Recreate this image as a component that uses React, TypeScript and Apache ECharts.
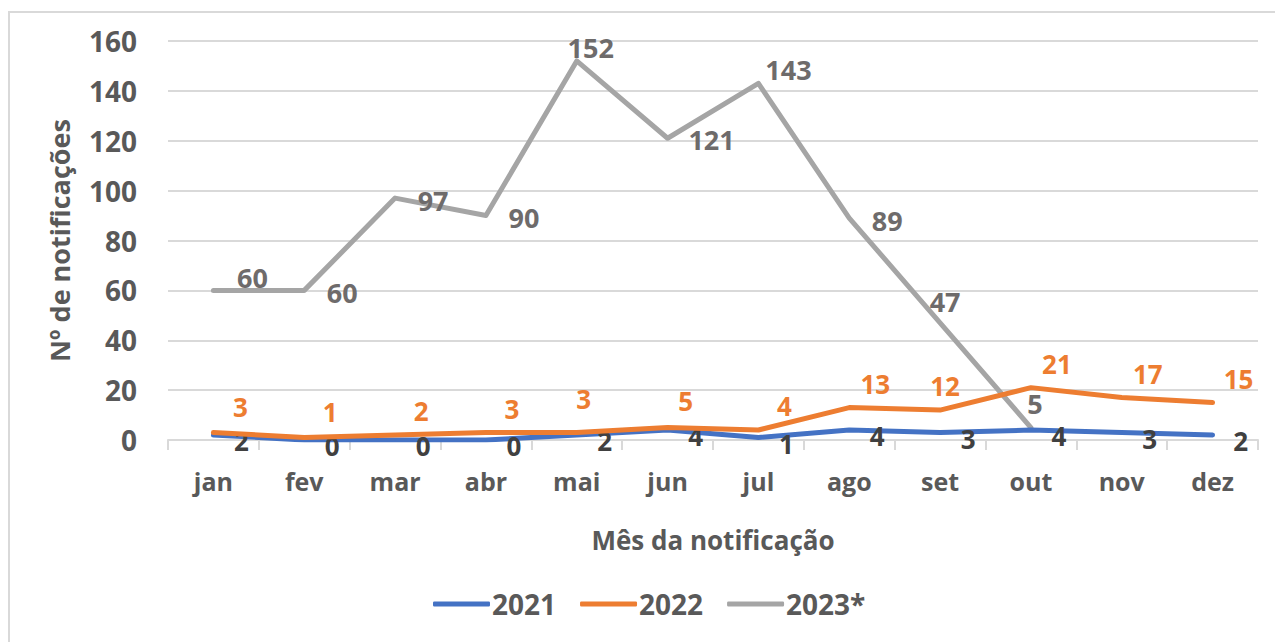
import React, { useEffect, useRef } from "react";
import * as echarts from "echarts";

const months = ["jan", "fev", "mar", "abr", "mai", "jun", "jul", "ago", "set", "out", "nov", "dez"];
const seriesNames = ["2021", "2022", "2023*"];
const values2021 = [2, 0, 0, 0, 2, 4, 1, 4, 3, 4, 3, 2];
const values2022 = [3, 1, 2, 3, 3, 5, 4, 13, 12, 21, 17, 15];
const values2023 = [60, 60, 97, 90, 152, 121, 143, 89, 47, 5];
const yTicks = { min: 0, max: 160, interval: 20 };

// label nudges (style only)
const off2021: [number, number] = [28, 6];
const off2022: [number, number] = [26, -24];
const nudge2022: Record<number, [number, number]> = { 0: [27, -26], 1: [26, -26], 4: [7, -34], 5: [18, -27], 8: [5, -24] };
const off2023: [number, number] = [38, 2];
const nudge2023: Record<number, [number, number]> = {
  0: [39, -13], 4: [14, -13], 5: [44, 1], 6: [30, -14], 8: [5, -21], 9: [4, -24],
};

const FONT = "'Open Sans', 'Noto Sans', sans-serif";

export default function App() {
  const ref = useRef<HTMLDivElement>(null);
  useEffect(() => {
    if (!ref.current) return;
    const chart = echarts.init(ref.current, undefined, { renderer: "svg" });
    const lbl = (color: string, size: number) => ({
      show: true,
      position: "inside",
      color,
      fontFamily: FONT,
      fontWeight: "bold",
      fontSize: size,
      lineHeight: size - 4,
    });
    const lineSeries = (name: string, color: string, z: number) => ({
      name,
      type: "line",
      symbol: "circle",
      symbolSize: 1,
      showSymbol: true,
      z,
      lineStyle: { color, width: 5, cap: "round", join: "round" },
      itemStyle: { color },
    });
    chart.setOption({
      animation: false,
      backgroundColor: "#ffffff",
      textStyle: { fontFamily: FONT },
      graphic: [
        {
          type: "rect",
          shape: { x: 9, y: 12, width: 1300, height: 700 },
          style: { fill: "none", stroke: "#d9d9d9", lineWidth: 2 },
          silent: true,
        },
      ],
      grid: { left: 168, right: 17, top: 41, bottom: 202 },
      legend: {
        bottom: 19,
        left: 428,
        itemWidth: 57,
        itemHeight: 5,
        itemGap: 24,
        icon: "roundRect",
        textStyle: { color: "#595959", fontFamily: FONT, fontWeight: "bold", fontSize: 28, padding: [0, 0, 0, -3] },
        data: seriesNames,
      },
      xAxis: {
        type: "category",
        data: months,
        boundaryGap: true,
        name: "Mês da notificação",
        nameLocation: "middle",
        nameGap: 87,
        nameTextStyle: { color: "#595959", fontFamily: FONT, fontWeight: "bold", fontSize: 26 },
        axisLine: { lineStyle: { color: "#d9d9d9", width: 2 } },
        axisTick: { show: true, length: 10, lineStyle: { color: "#d9d9d9", width: 2 } },
        axisLabel: { color: "#595959", fontFamily: FONT, fontWeight: "bold", fontSize: 25, margin: 28 },
      },
      yAxis: {
        type: "value",
        min: yTicks.min,
        max: yTicks.max,
        interval: yTicks.interval,
        name: "Nº de notificações",
        nameLocation: "middle",
        nameGap: 95,
        nameTextStyle: { color: "#595959", fontFamily: FONT, fontWeight: "bold", fontSize: 27 },
        axisLine: { show: false },
        axisTick: { show: false },
        axisLabel: { color: "#595959", fontFamily: FONT, fontWeight: "bold", fontSize: 28, margin: 31 },
        splitLine: { lineStyle: { color: "#d9d9d9", width: 2 } },
      },
      series: [
        {
          ...lineSeries(seriesNames[0], "#4472C4", 3),
          data: values2021.map((v) => ({ value: v, label: { ...lbl("#404040", 26), offset: off2021 } })),
        },
        {
          ...lineSeries(seriesNames[1], "#ED7D31", 4),
          data: values2022.map((v, i) => ({ value: v, label: { ...lbl("#ED7D31", 26), offset: nudge2022[i] || off2022 } })),
        },
        {
          ...lineSeries(seriesNames[2], "#A5A5A5", 2),
          data: values2023.map((v, i) => ({ value: v, label: { ...lbl("#6E6B6B", 27), offset: nudge2023[i] || off2023 } })),
        },
      ],
    });
    return () => chart.dispose();
  }, []);
  return (
    <div style={{ position: "absolute", left: 0, top: 0, width: 1275, height: 642 }}>
      <div ref={ref} style={{ width: 1275, height: 642 }} />
    </div>
  );
}
